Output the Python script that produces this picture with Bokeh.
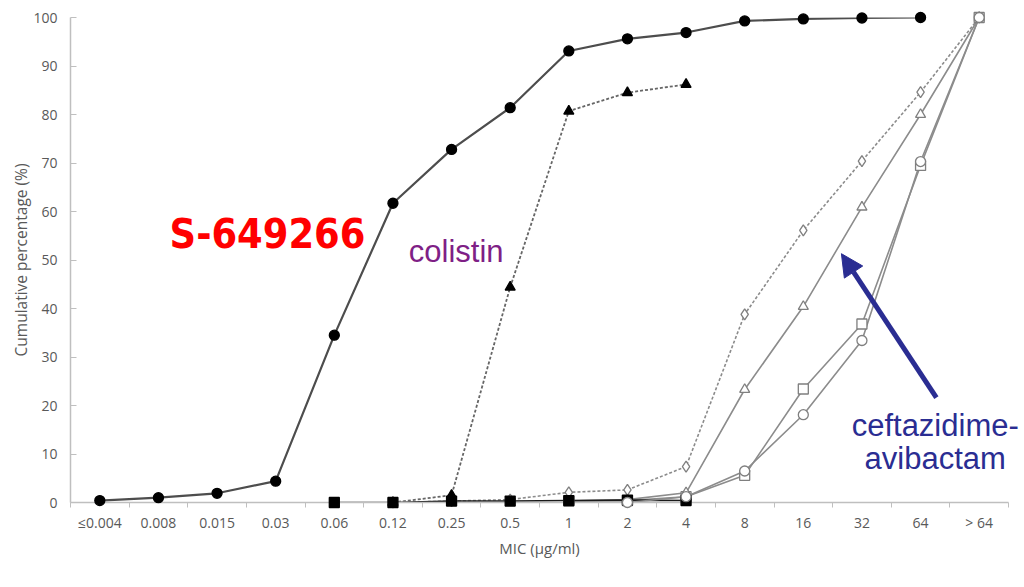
from bokeh.plotting import figure
from bokeh.models import (Range1d, FixedTicker, Arrow, NormalHead, Legend,
                          LegendItem, ColumnDataSource, CustomJSTickFormatter)
from bokeh.core.properties import value
from bokeh.embed import file_html
from bokeh.resources import INLINE

nan = float("nan")

mic_labels = ["≤0.004", "0.008", "0.015", "0.03", "0.06", "0.12", "0.25", "0.5",
              "1", "2", "4", "8", "16", "32", "64", "> 64"]

cefiderocol = [0.4, 1.0, 1.9, 4.4, 34.5, 61.7, 72.8, 81.4, 93.1, 95.6, 96.9, 99.3, 99.7, 99.9, 100.0, nan]
cefepime = [nan, nan, nan, nan, nan, nan, nan, nan, 0.3, 0.4, 1.2, 5.6, 23.4, 36.8, 69.5, 100.0]
ceftazidime_avibactam = [nan, nan, nan, nan, nan, nan, nan, nan, 0.3, 0.6, 2.0, 23.3, 40.4, 60.9, 80.0, 100.0]
ceftolozane_tazobactam = [nan, nan, nan, nan, nan, 0.0, 0.3, 0.6, 2.1, 2.6, 7.4, 38.8, 56.1, 70.4, 84.6, 100.0]
ciprofloxacin = [nan, nan, nan, nan, 0.0, 0.0, 0.3, 0.3, 0.4, 0.5, 0.4, nan, nan, nan, nan, nan]
colistin = [nan, nan, nan, nan, nan, 0.0, 1.5, 44.4, 80.7, 84.5, 86.2, nan, nan, nan, nan, nan]
meropenem = [nan, nan, nan, nan, nan, nan, nan, nan, nan, 0.0, 1.2, 6.5, 18.1, 33.4, 70.3, 100.0]

series = [
    ("Cefiderocol", cefiderocol, dict(color="#4d4d4d", width=2.2, dash="solid"),
     dict(marker="circle", fill="black", line="black", size=10)),
    ("Cefepime", cefepime, dict(color="#8c8c8c", width=1.6, dash="solid"),
     dict(marker="square", fill="white", line="#7f7f7f", size=10)),
    ("Ceftazidime-avibactam", ceftazidime_avibactam, dict(color="#8c8c8c", width=1.6, dash="solid"),
     dict(marker="triangle", fill="white", line="#7f7f7f", size=10)),
    ("Ceftolozane-Tazobactam", ceftolozane_tazobactam, dict(color="#8c8c8c", width=1.6, dash="3 2"),
     dict(marker="diamond", fill="white", line="#7f7f7f", size=11)),
    ("Ciprofloxacin", ciprofloxacin, dict(color="#1a1a1a", width=1.6, dash="solid"),
     dict(marker="square", fill="black", line="black", size=10)),
    ("Colistin", colistin, dict(color="#666666", width=1.8, dash="3 2"),
     dict(marker="triangle", fill="black", line="black", size=10)),
    ("Meropenem", meropenem, dict(color="#8c8c8c", width=1.6, dash="solid"),
     dict(marker="circle", fill="white", line="#7f7f7f", size=10)),
]

# annotation texts (data units)
notes_text = ["S-649266", "colistin", "ceftazidime-", "avibactam"]
notes_x = [1.69, 5.77, 14.75, 14.75]
notes_y = [55.3, 51.8, 15.9, 9.1]

FONT = "Open Sans"
GRAY = "#595959"
AXIS = "#bfbfbf"
NAVY = "#2a2d92"

p = figure(frame_width=938, frame_height=485, output_backend="svg", toolbar_location=None,
           x_range=Range1d(0, len(mic_labels)), y_range=Range1d(0, 100),
           min_border_left=70, min_border_right=16, min_border_top=17, min_border_bottom=85)
p.outline_line_color = None
p.xgrid.visible = False
p.ygrid.visible = False

xs = [i + 0.5 for i in range(len(mic_labels))]

items = []
for name, vals, ls, ms in series:
    src = ColumnDataSource(dict(x=xs, y=vals))
    lr = p.line("x", "y", source=src, line_color=ls["color"], line_width=ls["width"],
                line_dash=ls["dash"])
    sr = p.scatter("x", "y", source=src, marker=ms["marker"], size=ms["size"],
                   fill_color=ms["fill"], line_color=ms["line"], line_width=1.3)
    sr.level = "overlay"
    items.append(LegendItem(label=name, renderers=[lr, sr]))

# x axis
xa = p.xaxis[0]
xa.ticker = FixedTicker(ticks=xs, minor_ticks=list(range(len(mic_labels) + 1)))
xa.formatter = CustomJSTickFormatter(args=dict(labels=mic_labels),
                                     code="return labels[Math.floor(tick)] || '';")
xa.major_tick_in = 0
xa.major_tick_out = 0
xa.minor_tick_in = 0
xa.minor_tick_out = 5
xa.minor_tick_line_color = AXIS
xa.axis_line_color = AXIS
xa.axis_line_width = 1.5
xa.major_label_text_font = FONT
xa.major_label_text_font_size = "14px"
xa.major_label_text_color = GRAY
xa.major_label_standoff = 5
xa.axis_label = "MIC (μg/ml)"
xa.axis_label_text_font = FONT
xa.axis_label_text_font_size = "15px"
xa.axis_label_text_font_style = "normal"
xa.axis_label_text_color = GRAY
xa.axis_label_standoff = 3

# y axis
ya = p.yaxis[0]
ya.ticker = FixedTicker(ticks=list(range(0, 101, 10)))
ya.major_tick_in = 6
ya.major_tick_out = 0
ya.minor_tick_line_color = None
ya.major_tick_line_color = AXIS
ya.axis_line_color = AXIS
ya.axis_line_width = 1.5
ya.major_label_text_font = FONT
ya.major_label_text_font_size = "14px"
ya.major_label_text_color = GRAY
ya.major_label_standoff = 13
ya.axis_label = "Cumulative percentage (%)"
ya.axis_label_text_font = FONT
ya.axis_label_text_font_size = "15.5px"
ya.axis_label_text_font_style = "normal"
ya.axis_label_text_color = GRAY
ya.axis_label_standoff = -2

legend = Legend(items=items, orientation="horizontal", location=(-5, 10),
                label_text_font=FONT, label_text_font_size="13.5px", label_text_color=GRAY,
                glyph_width=20, glyph_height=12, label_height=12, label_standoff=2,
                spacing=15, padding=0, margin=0, border_line_color=None,
                background_fill_alpha=0)
p.add_layout(legend, "below")

# annotations
t1 = p.text(x=notes_x[0:1], y=notes_y[0:1], text=notes_text[0:1], text_color="#ff0000",
            text_font=value("DejaVu Sans Condensed"), text_font_style="bold",
            text_font_size="41px", text_baseline="alphabetic")
t2 = p.text(x=notes_x[1:2], y=notes_y[1:2], text=notes_text[1:2], text_color="#7f1f86",
            text_font=value("Liberation Sans"), text_font_size="31px",
            text_baseline="alphabetic")
t3 = p.text(x=notes_x[2:4], y=notes_y[2:4], text=notes_text[2:4], text_color=NAVY,
            text_font=value("Liberation Sans"), text_font_size="31px",
            text_align="center", text_baseline="alphabetic")
for t in (t1, t2, t3):
    t.level = "overlay"

arrow = Arrow(x_start=14.77, y_start=21.6, x_end=13.15, y_end=51.3,
              line_color=NAVY, line_width=5,
              end=NormalHead(size=22, fill_color=NAVY, line_color=NAVY))
p.add_layout(arrow)

open("out.html", "w").write(file_html(p, INLINE))
